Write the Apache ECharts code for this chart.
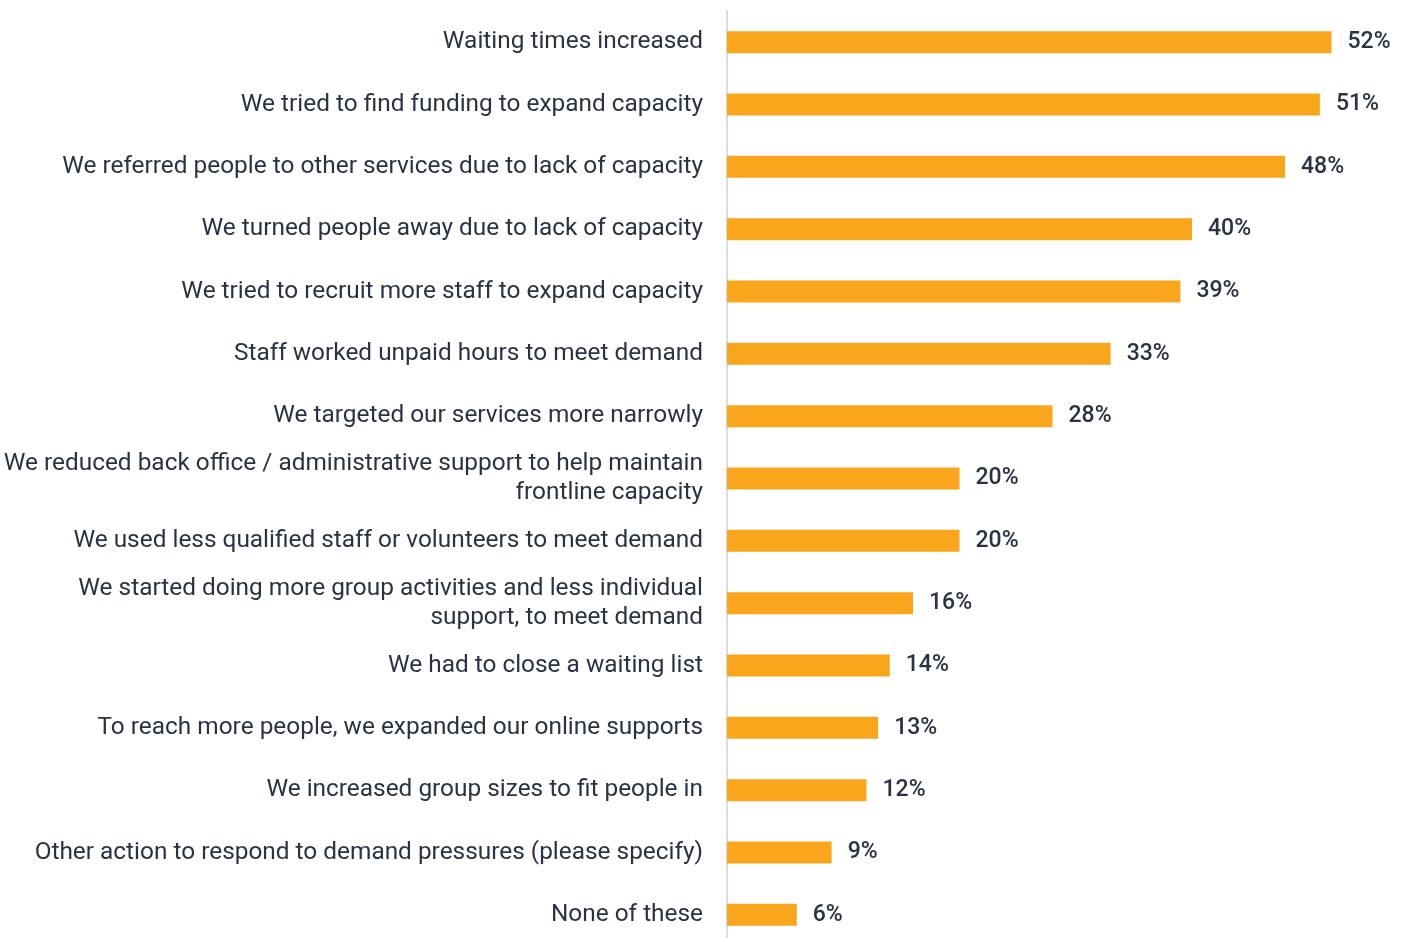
<!DOCTYPE html>
<html>
<head>
<meta charset="utf-8">
<script src="https://cdn.jsdelivr.net/npm/echarts@6/dist/echarts.min.js"></script>
<style>
  html, body { margin: 0; padding: 0; background: #ffffff; }
  #chart { width: 1407px; height: 938px; }
</style>
</head>
<body>
<div id="chart"></div>
<script>
// Actions taken in response to demand pressures (share of respondents, %)
const categories = [
  'Waiting times increased',
  'We tried to find funding to expand capacity',
  'We referred people to other services due to lack of capacity',
  'We turned people away due to lack of capacity',
  'We tried to recruit more staff to expand capacity',
  'Staff worked unpaid hours to meet demand',
  'We targeted our services more narrowly',
  'We reduced back office / administrative support to help maintain\nfrontline capacity',
  'We used less qualified staff or volunteers to meet demand',
  'We started doing more group activities and less individual\nsupport, to meet demand',
  'We had to close a waiting list',
  'To reach more people, we expanded our online supports',
  'We increased group sizes to fit people in',
  'Other action to respond to demand pressures (please specify)',
  'None of these'
];
const values = [52, 51, 48, 40, 39, 33, 28, 20, 20, 16, 14, 13, 12, 9, 6];

const textColor = '#2a3345';
const fontFamily = 'Roboto, "Noto Sans", sans-serif';

const chart = echarts.init(document.getElementById('chart'), null, { renderer: 'canvas' });
chart.setOption({
  animation: false,
  backgroundColor: '#ffffff',
  grid: {
    left: 727, width: 651, top: 11, height: 935,
    containLabel: false,
    outerBoundsMode: 'none'
  },
  xAxis: {
    type: 'value',
    min: 0,
    max: 56,
    show: false
  },
  yAxis: {
    type: 'category',
    inverse: true,
    data: categories,
    axisLine: { show: true, lineStyle: { color: '#d9dee6', width: 2 } },
    axisTick: { show: false },
    axisLabel: {
      margin: 24,
      color: textColor,
      fontFamily: fontFamily,
      fontSize: 24.4,
      lineHeight: 29,
      align: 'right',
      padding: [3, 0, 0, 0]
    }
  },
  series: [{
    type: 'bar',
    data: values,
    barWidth: 22,
    itemStyle: { color: '#f9a61c' },
    label: {
      show: true,
      position: 'right',
      distance: 16,
      formatter: '{c}%',
      color: textColor,
      fontFamily: fontFamily,
      fontSize: 23,
      fontWeight: 500,
      padding: [3, 0, 0, 0]
    }
  }]
});
</script>
</body>
</html>
